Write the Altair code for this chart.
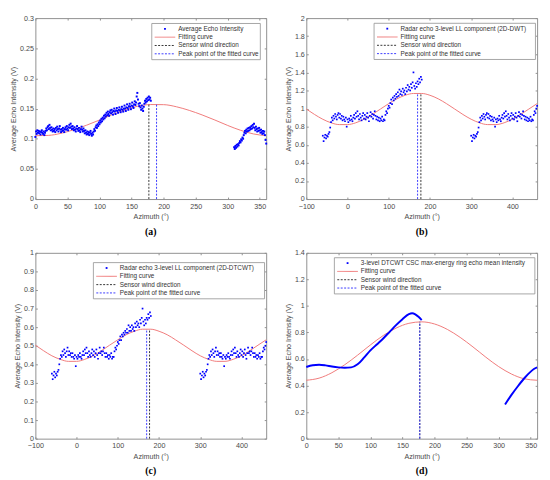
import altair as alt
import pandas as pd

# ---------------- data ----------------
# (a) average echo intensity, 1-degree samples
a_az1 = list(range(0, 181))
a_v1 = [
    0.103, 0.112, 0.108, 0.114, 0.110, 0.113, 0.109, 0.112, 0.107, 0.111,
    0.114, 0.110, 0.108, 0.112, 0.106, 0.110, 0.113, 0.117, 0.114, 0.119,
    0.121, 0.116, 0.123, 0.118, 0.114, 0.119, 0.115, 0.112, 0.117, 0.113,
    0.116, 0.111, 0.118, 0.114, 0.120, 0.116, 0.112, 0.117, 0.121, 0.115,
    0.111, 0.116, 0.113, 0.118, 0.114, 0.111, 0.116, 0.119, 0.115, 0.121,
    0.117, 0.114, 0.119, 0.123, 0.118, 0.125, 0.120, 0.116, 0.121, 0.117,
    0.114, 0.119, 0.115, 0.112, 0.117, 0.121, 0.116, 0.113, 0.118, 0.114,
    0.111, 0.116, 0.120, 0.115, 0.112, 0.117, 0.113, 0.109, 0.114, 0.110,
    0.107, 0.112, 0.108, 0.111, 0.106, 0.110, 0.113, 0.108, 0.105, 0.110,
    0.107, 0.112, 0.116, 0.113, 0.119, 0.122, 0.118, 0.124, 0.121, 0.127,
    0.124, 0.130, 0.127, 0.133, 0.129, 0.135, 0.132, 0.138, 0.134, 0.140,
    0.137, 0.143, 0.139, 0.145, 0.141, 0.138, 0.144, 0.147, 0.142, 0.148,
    0.144, 0.140, 0.146, 0.150, 0.145, 0.141, 0.147, 0.151, 0.146, 0.143,
    0.148, 0.152, 0.147, 0.144, 0.149, 0.153, 0.148, 0.145, 0.150, 0.155,
    0.150, 0.146, 0.152, 0.157, 0.151, 0.148, 0.154, 0.158, 0.153, 0.149,
    0.155, 0.160, 0.154, 0.151, 0.157, 0.162, 0.156, 0.160, 0.170, 0.176,
    0.165, 0.158, 0.154, 0.159, 0.152, 0.148, 0.155, 0.150, 0.146, 0.153,
    0.158, 0.163, 0.160, 0.166, 0.162, 0.168, 0.164, 0.170, 0.165, 0.168, 0.163,
]
a_az2 = list(range(310, 361))
a_v2 = [
    0.086, 0.083, 0.088, 0.085, 0.090, 0.087, 0.091, 0.089, 0.093, 0.096,
    0.094, 0.099, 0.097, 0.102, 0.100, 0.106, 0.110, 0.113, 0.109, 0.115,
    0.112, 0.117, 0.113, 0.118, 0.114, 0.119, 0.116, 0.121, 0.117, 0.123,
    0.119, 0.125, 0.118, 0.114, 0.120, 0.116, 0.112, 0.117, 0.113, 0.118,
    0.114, 0.110, 0.115, 0.111, 0.108, 0.113, 0.109, 0.112, 0.106, 0.098, 0.092,
]
a_fit_az = [0, 20, 40, 60, 80, 100, 120, 140, 160, 180, 200, 220, 240, 260, 280, 300, 320, 340, 360]
a_fit_v = [0.105, 0.1055, 0.109, 0.115, 0.1225, 0.131, 0.140, 0.148, 0.154, 0.1567,
           0.1565, 0.153, 0.147, 0.1395, 0.131, 0.122, 0.114, 0.108, 0.105]

# (b) and (c): samples every 2 degrees from -60 to 180
bc_az = list(range(-60, 181, 2))
b_v = [
    0.70, 0.64, 0.68, 0.71, 0.67, 0.70, 0.69, 0.72, 0.74, 0.79,
    0.85, 0.90, 0.87, 0.92, 0.89, 0.94, 0.91, 0.88, 0.93, 0.95,
    0.90, 0.94, 0.89, 0.92, 0.87, 0.91, 0.88, 0.86, 0.90, 0.80,
    0.88, 0.85, 0.89, 0.87, 0.92, 0.88, 0.86, 0.90, 0.93, 0.89,
    0.95, 0.91, 0.97, 0.92, 0.88, 0.94, 0.90, 0.87, 0.92, 0.95,
    0.89, 0.93, 0.88, 0.91, 0.95, 0.90, 0.86, 0.92, 0.96, 0.91,
    0.94, 0.89, 0.93, 0.97, 0.92, 0.88, 0.91, 0.87, 0.90, 0.86,
    0.89, 0.87, 0.91, 0.86, 0.88, 0.87, 0.93, 0.97, 0.95, 1.00,
    1.03, 1.01, 1.06, 1.10, 1.05, 1.12, 1.09, 1.14, 1.11, 1.16,
    1.13, 1.18, 1.14, 1.21, 1.16, 1.19, 1.15, 1.22, 1.18, 1.20,
    1.16, 1.23, 1.19, 1.26, 1.21, 1.24, 1.20, 1.27, 1.23, 1.29,
    1.40, 1.25, 1.22, 1.28, 1.24, 1.30, 1.27, 1.33, 1.29, 1.35, 1.32,
]
c_v = [
    0.35, 0.32, 0.34, 0.36, 0.33, 0.35, 0.34, 0.36, 0.37, 0.40,
    0.43, 0.45, 0.44, 0.47, 0.45, 0.48, 0.46, 0.44, 0.47, 0.49,
    0.45, 0.47, 0.45, 0.46, 0.44, 0.46, 0.44, 0.43, 0.45, 0.39,
    0.44, 0.43, 0.45, 0.44, 0.46, 0.44, 0.43, 0.45, 0.47, 0.45,
    0.48, 0.46, 0.49, 0.46, 0.44, 0.47, 0.45, 0.44, 0.46, 0.48,
    0.45, 0.47, 0.44, 0.46, 0.48, 0.45, 0.43, 0.46, 0.49, 0.46,
    0.47, 0.45, 0.47, 0.49, 0.46, 0.44, 0.46, 0.44, 0.45, 0.43,
    0.45, 0.44, 0.46, 0.43, 0.44, 0.44, 0.47, 0.49, 0.48, 0.50,
    0.52, 0.51, 0.53, 0.55, 0.53, 0.56, 0.55, 0.57, 0.56, 0.58,
    0.57, 0.59, 0.57, 0.61, 0.58, 0.60, 0.58, 0.61, 0.59, 0.60,
    0.58, 0.62, 0.60, 0.63, 0.61, 0.62, 0.60, 0.64, 0.62, 0.65,
    0.70, 0.63, 0.61, 0.64, 0.62, 0.65, 0.64, 0.67, 0.65, 0.68, 0.66,
]
bc_fit_az = [-100, -80, -60, -40, -20, 0, 20, 40, 60, 80, 100, 120, 140, 160, 180,
             200, 220, 240, 260, 280, 300, 320, 340, 360, 380, 400, 420, 440, 460]
b_fit_v = [0.995, 0.935, 0.882, 0.843, 0.823, 0.823, 0.843, 0.882, 0.935, 0.995,
           1.055, 1.108, 1.147, 1.167, 1.167, 1.147, 1.108, 1.055, 0.995, 0.935,
           0.882, 0.843, 0.823, 0.823, 0.843, 0.882, 0.935, 0.995, 1.055]
c_fit_v = [0.503, 0.473, 0.446, 0.427, 0.416, 0.416, 0.427, 0.446, 0.473, 0.503,
           0.532, 0.559, 0.578, 0.589, 0.589, 0.578, 0.559, 0.532, 0.503, 0.473,
           0.446, 0.427, 0.416, 0.416, 0.427, 0.446, 0.473, 0.503, 0.532]

# (d) smooth max-energy ring echo mean intensity
d_az1 = [0, 10, 20, 30, 40, 50, 60, 70, 80, 90, 100, 110, 120, 130, 140, 150, 160, 165, 170, 175, 180]
d_v1 = [0.540, 0.553, 0.557, 0.552, 0.543, 0.537, 0.535, 0.537, 0.560, 0.610, 0.665,
        0.710, 0.755, 0.805, 0.855, 0.900, 0.938, 0.945, 0.937, 0.918, 0.893]
d_az2 = [310, 320, 330, 340, 350, 355, 360]
d_v2 = [0.258, 0.330, 0.395, 0.455, 0.505, 0.525, 0.537]
d_fit_az = [0, 20, 40, 60, 80, 100, 120, 140, 160, 180, 200, 220, 240, 260, 280, 300, 320, 340, 360]
d_fit_v = [0.440, 0.456, 0.497, 0.557, 0.629, 0.706, 0.777, 0.833, 0.869, 0.880,
           0.864, 0.823, 0.763, 0.691, 0.614, 0.543, 0.487, 0.451, 0.440]

# vertical markers: sensor wind direction / peak of fitted curve (azimuth, top value)
a_sensor, a_peak = (177, 0.1567), (189, 0.157)
b_sensor, b_peak = (178, 1.167), (170, 1.168)
c_sensor, c_peak = (177, 0.589), (170, 0.590)
d_sensor, d_peak = (177, 0.880), (177, 0.880)

COMMON = ["Fitting curve", "Sensor wind direction", "Peak point of the fitted curve"]
a_labels = ["Average Echo Intensity"] + COMMON
b_labels = ["Radar echo 3-level LL component (2D-DWT)"] + COMMON
c_labels = ["Radar echo 3-level LL component (2D-DTCWT)"] + COMMON
d_labels = ["3-level DTCWT CSC max-energy ring echo mean intensity"] + COMMON

# ---------------- styling ----------------
BLUE = "#0000ff"
RED = "#f07a7a"
TXT = "#4a4a4a"
FRAME = "#8f8f8f"
DOT_BLACK = "#333333"
DOT_BLUE = "#3a3aff"
FONT = "Liberation Sans"


def pts_frame(az, v, seg=0):
    return pd.DataFrame({"az": az, "v": v, "seg": seg})


def make_panel(pts, fit, sensor, peak, xdom, xvals, ydom, yvals, labels, caption,
               W, H, box_w, box_top, box_rm, as_line=False, dot=3):
    common = dict(offset=-2, tickSize=2, labelOverlap=False, labelFlush=False, labelBound=False)
    xaxis = alt.Axis(values=xvals, title="Azimuth (°)", labelPadding=3.5, titlePadding=3.5, **common)
    yaxis = alt.Axis(values=yvals, format="~g", title="Average Echo Intensity (V)",
                     labelPadding=2, titlePadding=2.5, **common)
    xtop = alt.Axis(values=xvals, orient="top", labels=False, title=None, **common)
    yright = alt.Axis(values=yvals, orient="right", labels=False, title=None, **common)
    xs = alt.Scale(domain=xdom, nice=False, zero=False)
    ys_ = alt.Scale(domain=ydom, nice=False, zero=False)
    Xn = alt.X("az:Q", scale=xs, axis=None)
    Yn = alt.Y("v:Q", scale=ys_, axis=None)
    layers = [
        alt.Chart(fit).mark_line(opacity=0).encode(
            x=alt.X("az:Q", scale=xs, axis=xtop), y=alt.Y("v:Q", scale=ys_, axis=yright)),
        alt.Chart(fit).mark_line(color=RED, strokeWidth=1, interpolate="monotone").encode(
            x=alt.X("az:Q", scale=xs, axis=xaxis), y=alt.Y("v:Q", scale=ys_, axis=yaxis)),
    ]
    if as_line:
        layers.append(alt.Chart(pts).mark_line(color=BLUE, strokeWidth=2, interpolate="monotone")
                      .encode(x=Xn, y=Yn, detail="seg:N"))
    else:
        layers.append(alt.Chart(pts).mark_square(color=BLUE, size=dot, opacity=1)
                      .encode(x=Xn, y=Yn))
    vdf = pd.DataFrame({"az": [sensor[0], peak[0]], "v": [0, 0],
                        "hi": [sensor[1], peak[1]], "kind": ["sensor", "peak"]})
    layers.append(alt.Chart(vdf).mark_rule(strokeDash=[2, 1.5], strokeWidth=1)
                  .encode(x=Xn, y=Yn, y2="hi:Q",
                          color=alt.Color("kind:N", scale=alt.Scale(domain=["sensor", "peak"],
                                          range=[DOT_BLACK, DOT_BLUE]), legend=None)))
    # legend box (drawn in pixel space)
    one = pd.DataFrame({"k": [0]})
    x0 = W - box_rm - box_w
    layers.append(alt.Chart(one).mark_rect(fill="white", stroke=FRAME, strokeWidth=0.8)
                  .encode(x=alt.value(x0), x2=alt.value(x0 + box_w),
                          y=alt.value(box_top), y2=alt.value(box_top + 37)))
    ys = [box_top + 5.5 + 8.5 * i for i in range(4)]
    layers.append(alt.Chart(one).mark_square(color=BLUE, size=3.5, opacity=1)
                  .encode(x=alt.value(x0 + 13.5), y=alt.value(ys[0])))
    for i, (col, dash) in enumerate([(RED, [1, 0]), (DOT_BLACK, [2, 1.5]), (DOT_BLUE, [2, 1.5])]):
        layers.append(alt.Chart(one).mark_rule(color=col, strokeWidth=1, strokeDash=dash)
                      .encode(x=alt.value(x0 + 3), x2=alt.value(x0 + 24), y=alt.value(ys[i + 1])))
    for i, lab in enumerate(labels):
        layers.append(alt.Chart(one).mark_text(align="left", baseline="middle", fontSize=6.5,
                                               font=FONT, color="#333333")
                      .encode(x=alt.value(x0 + 27), y=alt.value(ys[i]), text=alt.value(lab)))
    return alt.layer(*layers).resolve_axis(x="independent", y="independent").properties(
        width=W, height=H,
        title=alt.TitleParams(caption, orient="bottom", font="Liberation Serif", fontSize=10,
                              fontWeight="bold", color="black", offset=7, anchor="middle"))


a_pts = pd.concat([pts_frame(a_az1, a_v1), pts_frame(a_az2, a_v2)])
b_pts = pd.concat([pts_frame(bc_az, b_v),
                   pts_frame([z + 360 for z in bc_az if z <= 100], [v for z, v in zip(bc_az, b_v) if z <= 100])])
c_pts = pd.concat([pts_frame(bc_az, c_v),
                   pts_frame([z + 360 for z in bc_az if z <= 100], [v for z, v in zip(bc_az, c_v) if z <= 100])])
d_pts = pd.concat([pts_frame(d_az1, d_v1, 0), pts_frame(d_az2, d_v2, 1)])

W = 236
pa = make_panel(a_pts, pd.DataFrame({"az": a_fit_az, "v": a_fit_v}), a_sensor, a_peak,
                [0, 360], [0, 50, 100, 150, 200, 250, 300, 350], [0, 0.3],
                [0, 0.05, 0.1, 0.15, 0.2, 0.25, 0.3], a_labels, "(a)", W, 185, 111, 5.5, 6, dot=4)
pb = make_panel(b_pts, pd.DataFrame({"az": bc_fit_az, "v": b_fit_v}), b_sensor, b_peak,
                [-100, 460], [-100, 0, 100, 200, 300, 400], [0, 2],
                [0, 0.2, 0.4, 0.6, 0.8, 1, 1.2, 1.4, 1.6, 1.8, 2], b_labels, "(b)", W, 185, 165, 5.3, 1.7)
pc = make_panel(c_pts, pd.DataFrame({"az": bc_fit_az, "v": c_fit_v}), c_sensor, c_peak,
                [-100, 460], [-100, 0, 100, 200, 300, 400], [0, 1],
                [0, 0.1, 0.2, 0.3, 0.4, 0.5, 0.6, 0.7, 0.8, 0.9, 1], c_labels, "(c)", W, 190, 175, 10, 1.7)
pd_ = make_panel(d_pts, pd.DataFrame({"az": d_fit_az, "v": d_fit_v}), d_sensor, d_peak,
                 [0, 360], [0, 50, 100, 150, 200, 250, 300, 350], [0, 1.4],
                 [0, 0.2, 0.4, 0.6, 0.8, 1, 1.2, 1.4], d_labels, "(d)", W, 190, 205, 5, 2.3, as_line=True)

chart = alt.concat(pa, pb, pc, pd_, columns=2, spacing={"row": 10, "column": 14}, align="each").properties(
    padding=0
).configure_view(stroke=FRAME, strokeWidth=1).configure_axis(
    grid=False, domain=False, tickColor=FRAME, labelFont=FONT, labelFontSize=7.3, labelColor=TXT,
    titleFont=FONT, titleFontSize=7.3, titleFontWeight="normal", titleColor=TXT, labelOverlap=False
)

chart.save("out.html", embed_options={"renderer": "svg", "actions": False})
